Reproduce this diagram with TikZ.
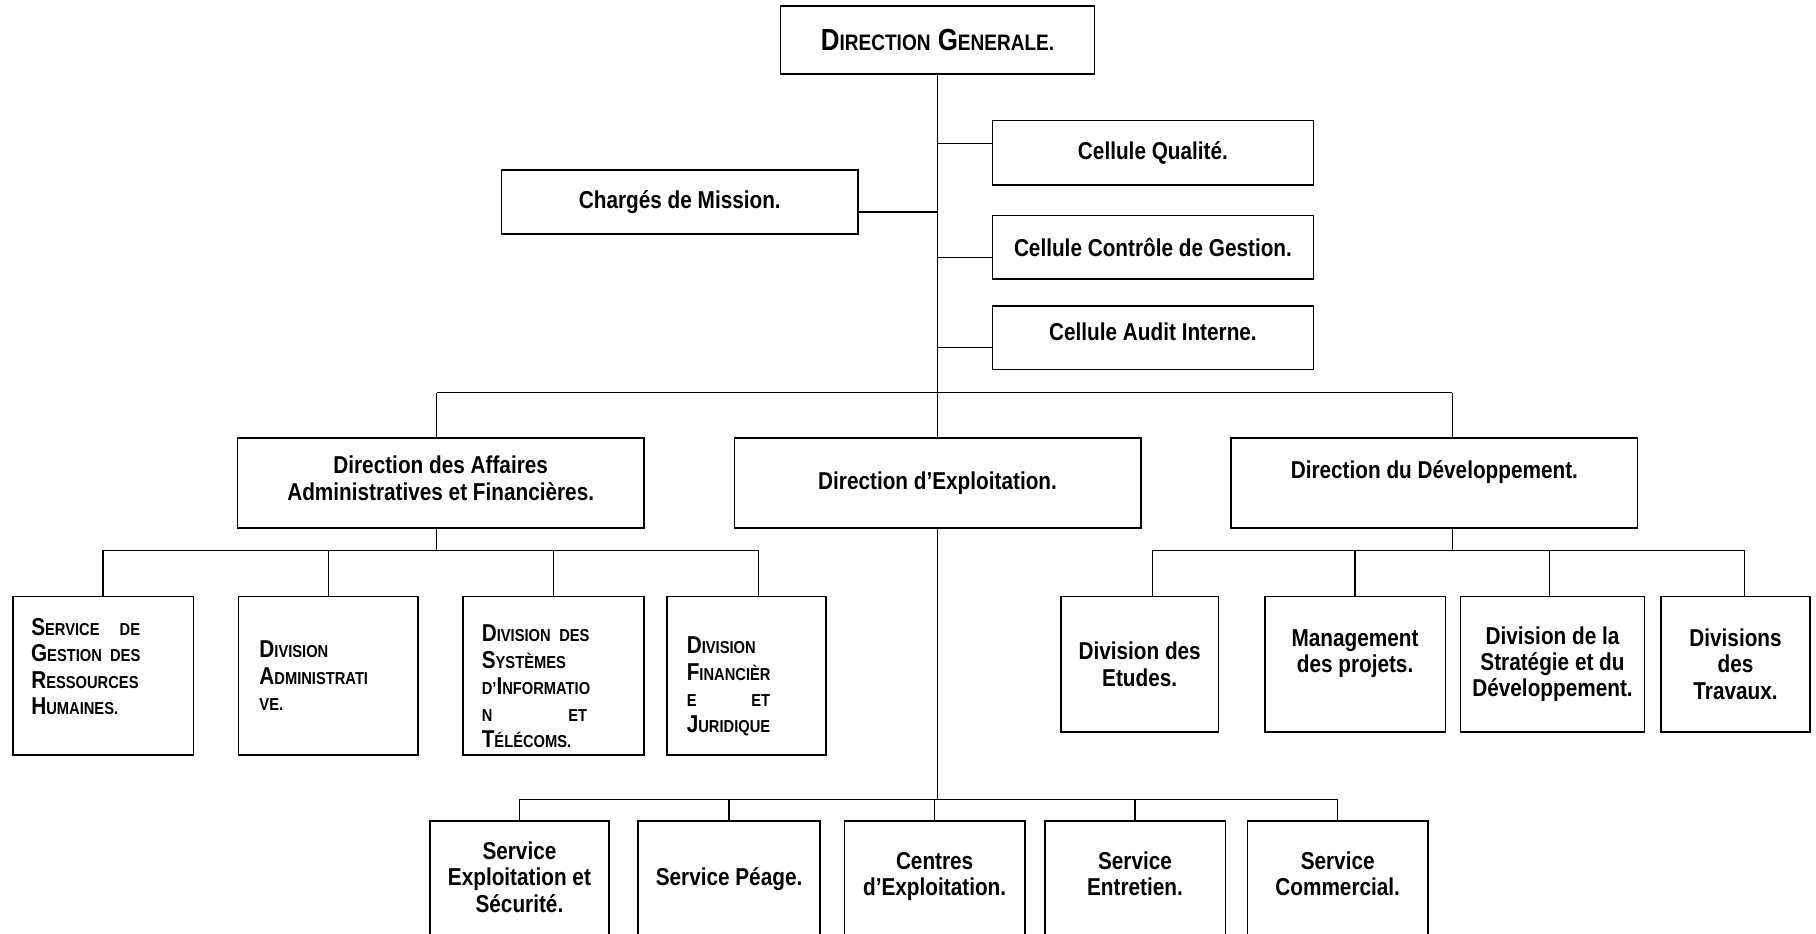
\documentclass[tikz,border=0pt]{standalone}
\usepackage{fontspec}
\setmainfont{Liberation Sans}[FakeStretch=0.85]
\newcommand{\lowcaps}[1]{{\fontsize{8.5}{13}\selectfont #1}}
\newcommand{\dgcaps}[1]{{\fontsize{11}{13}\selectfont #1}}

\begin{document}
\begin{tikzpicture}[x=0.02cm, y=-0.02cm,
    box/.style={draw, line width=0.8pt, inner sep=0pt, align=center,
      font=\fontsize{12}{13}\selectfont\bfseries},
    cellbox/.style={box, minimum width=5.54cm, minimum height=1.1cm},
    dirbox/.style={box, minimum width=7.02cm, minimum height=1.56cm},
    divbox/.style={box, minimum width=3.12cm, minimum height=2.74cm, align=left},
    devbox/.style={box, minimum width=3.12cm, minimum height=2.34cm},
    servbox/.style={box, minimum width=3.12cm, minimum height=2.1cm, text depth=0.28cm},
    link/.style={line width=0.6pt}]
    \useasboundingbox (0,0) rectangle (1568,806);

    % Define the nodes
    \node[box, minimum width=5.42cm, minimum height=1.18cm, font=\fontsize{15}{18}\selectfont\bfseries]
        (dg) at (809.5,34.5) {D\dgcaps{IRECTION} G\dgcaps{ENERALE.}};
    \node[cellbox, minimum height=1.12cm] (qual) at (995.5,132) {Cellule Qualité.};
    \node[box, minimum width=6.16cm, minimum height=1.1cm] (mission) at (587,174.5) {Chargés de Mission.};
    \node[cellbox] (ctrl) at (995.5,213.5) {Cellule Contrôle de Gestion.};
    \node[cellbox, text depth=0.2cm] (audit) at (995.5,291.5) {Cellule Audit Interne.};

    \node[dirbox, text depth=0.16cm] (daaf) at (380.5,417) {Direction des Affaires\\Administratives et Financières.};
    \node[dirbox] (dexp) at (809.5,417) {Direction d’Exploitation.};
    \node[dirbox] (ddev) at (1238.5,417) {Direction du Développement.\\ \mbox{}};

    \node[divbox, text width=2.48cm] (sgrh) at (89,583.5)
        {\makebox[1.88cm]{S\lowcaps{ERVICE}\hfill\lowcaps{DE}}\\
         \makebox[1.88cm]{G\lowcaps{ESTION} \hfill\lowcaps{DES}}\\
         R\lowcaps{ESSOURCES}\\ H\lowcaps{UMAINES.}\rule[-9pt]{0pt}{1pt}};
    \node[divbox, minimum width=3.1cm, text width=2.38cm] (dadm) at (283.5,583.5)
        {D\lowcaps{IVISION}\\ A\lowcaps{DMINISTRATI}\\ \lowcaps{VE.}};
    \node[divbox, text width=2.48cm] (dsit) at (478,583.5)
        {\rule{0pt}{18.8pt}\makebox[1.86cm]{D\lowcaps{IVISION} \hfill\lowcaps{DES}}\\
         S\lowcaps{YSTÈMES}\\ \lowcaps{D’}I\lowcaps{NFORMATIO}\\
         \makebox[1.82cm]{\lowcaps{N}\hfill\lowcaps{ET}}\\ T\lowcaps{ÉLÉCOMS.}};
    \node[divbox, minimum width=2.74cm, text width=2.06cm] (dfj) at (644.5,583.5)
        {\rule{0pt}{18.8pt}D\lowcaps{IVISION}\\ F\lowcaps{INANCIÈR}\\
         \makebox[1.44cm]{\lowcaps{E}\hfill\lowcaps{ET}}\\ J\lowcaps{URIDIQUE}};

    \node[devbox, minimum width=2.72cm] (detu) at (984,573.5) {Division des\\Etudes.};
    \node[devbox] (dmgt) at (1170,573.5) {Management\\des projets.\\ \mbox{}};
    \node[devbox, minimum width=3.18cm] (dstr) at (1340.5,573.5) {Division de la\\Stratégie et du\\Développement.};
    \node[devbox, minimum width=2.58cm] (dtrv) at (1498.5,573.5) {Divisions\\des\\Travaux.};

    \node[servbox, minimum width=3.1cm, text depth=0.18cm] (sexp) at (448.5,761.5) {Service\\Exploitation et\\Sécurité.};
    \node[servbox, minimum width=3.14cm, text depth=0.17cm] (speage) at (629.5,761.5) {Service Péage.};
    \node[servbox] (centres) at (807,761.5) {Centres\\d’Exploitation.};
    \node[servbox] (sentr) at (980,761.5) {Service\\Entretien.};
    \node[servbox] (scom) at (1155,761.5) {Service\\Commercial.};

    % Draw the edges
    \draw[link] (dg.south) -- (dexp.north);
    \coordinate (jq) at (809.5,124);
    \coordinate (jm) at (809.5,183);
    \coordinate (jc) at (809.5,222);
    \coordinate (ja) at (809.5,300);
    \draw[link] (jq) -- (jq -| qual.west);
    \draw[link] (jm) -- (jm -| mission.east);
    \draw[link] (jc) -- (jc -| ctrl.west);
    \draw[link] (ja) -- (ja -| audit.west);

    \coordinate (tl) at (377,339);
    \coordinate (tr) at (1254,339);
    \draw[link] (tl) -- (tr);
    \draw[link] (tl) -- (tl |- daaf.north);
    \draw[link] (tr) -- (tr |- ddev.north);

    % administrative side
    \coordinate (abus) at (377,475);
    \coordinate (a1) at (89,475);
    \coordinate (a2) at (283.5,475);
    \coordinate (a3) at (478,475);
    \coordinate (a4) at (655,475);
    \draw[link] (abus |- daaf.south) -- (abus);
    \draw[link] (a1) -- (a4);
    \foreach \c/\n in {a1/sgrh, a2/dadm, a3/dsit, a4/dfj}
        \draw[link] (\c) -- (\c |- \n.north);

    % development side
    \coordinate (dbus) at (1254,475);
    \coordinate (d1) at (995,475);
    \coordinate (d2) at (1170,475);
    \coordinate (d3) at (1338,475);
    \coordinate (d4) at (1506,475);
    \draw[link] (dbus |- ddev.south) -- (dbus);
    \draw[link] (d1) -- (d4);
    \foreach \c/\n in {d1/detu, d2/dmgt, d3/dstr, d4/dtrv}
        \draw[link] (\c) -- (\c |- \n.north);

    % exploitation side
    \coordinate (ebus) at (809.5,690);
    \coordinate (e1) at (448.5,690);
    \coordinate (e5) at (1155,690);
    \draw[link] (dexp.south) -- (ebus);
    \draw[link] (e1) -- (e5);
    \foreach \n in {sexp, speage, centres, sentr, scom}
        \draw[link] (\n.north |- ebus) -- (\n.north);
\end{tikzpicture}
\end{document}
